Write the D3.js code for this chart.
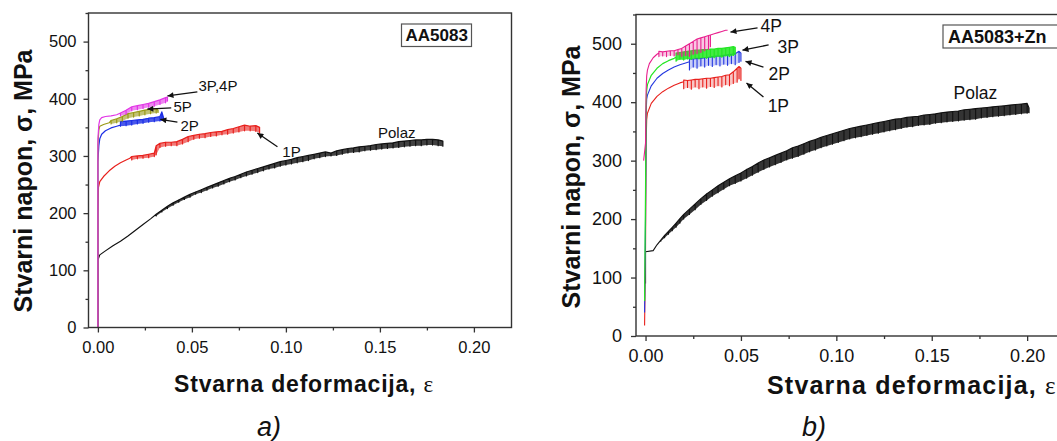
<!DOCTYPE html>
<html><head><meta charset="utf-8">
<script src="https://cdn.jsdelivr.net/npm/d3@7"></script>
<style>
body{margin:0;background:#fff;}
svg{display:block;}
text{font-family:Arial,"Liberation Sans",sans-serif;fill:#111;}
</style>
</head><body>
<svg id="c" width="1057" height="441"></svg>
<script>
// ---------- shared axis settings ----------
const xDomain = [-0.005, 0.22];
const yDomain = [0, 550];
const xTicks = [0, 0.05, 0.10, 0.15, 0.20];
const xMinor = [0.025, 0.075, 0.125, 0.175];
const yTicks = [0, 100, 200, 300, 400, 500];
const yMinor = [50, 150, 250, 350, 450, 550];
const xTitle = "Stvarna deformacija, ";
const xTitleSym = "ε";
const yTitle = "Stvarni napon, σ, MPa";

// ---------- panel a) AA5083 : [strain, stress] or [strain, stressTop, stressBottom] ----------
const polazA = [[0,0],[0,118],[0.001,127],[0.004,134],[0.008,143],[0.012,151],[0.016,160],[0.02,170],[0.024,180],[0.028,190],
[0.031,198,195],[0.034,205,202],[0.037,212,208],[0.040,218,214],[0.043,223,219],[0.046,228,224],[0.049,233,228],[0.052,237,233],[0.055,241,236],[0.058,245,240],[0.061,249,244],[0.064,253,247],[0.067,257,251],[0.070,261,255],[0.073,264,258],[0.076,268,262],[0.079,272,265],[0.082,275,268],[0.085,278,271],[0.088,281,274],[0.091,284,277],[0.094,287,279],[0.097,290,282],[0.100,292,284],[0.103,294,286],[0.106,297,288],[0.109,299,290],[0.112,301,292],[0.115,303,295],[0.118,305,297],[0.121,307,299],[0.124,305,300],[0.127,309,301],[0.130,311,303],[0.133,313,305],[0.136,314,306],[0.139,316,307],[0.142,317,309],[0.145,318,310],[0.148,320,311],[0.151,321,312],[0.154,322,313],[0.157,323,314],[0.160,325,315],[0.163,326,316],[0.166,327,317],[0.169,328,318],[0.172,328,318],[0.175,329,319],[0.178,329,319],[0.181,328,318],[0.1835,326,317]];
const p1A = [[0,0],[0,200],[0.0003,245],[0.001,255],[0.003,264],[0.006,274],[0.009,282],[0.012,288],[0.015,293],[0.017,296],
[0.018,299,293],[0.021,300,295],[0.024,301,296],[0.027,303,297],[0.030,305,299],[0.031,318,302],[0.033,322,315],[0.036,324,317],[0.039,324,318],[0.042,325,318],[0.045,329,321],[0.048,334,325],[0.051,336,329],[0.054,338,331],[0.057,339,332],[0.060,341,334],[0.063,342,335],[0.066,343,337],[0.069,346,338],[0.072,348,340],[0.075,351,342],[0.078,354,344],[0.081,352,344],[0.084,353,343],[0.086,350,340]];
const p2A = [[0,0],[0,290],[0.0005,318],[0.001,330],[0.002,338],[0.004,344],[0.007,349],[0.010,352],[0.012,354],
[0.012,360,352],[0.015,361,353],[0.018,362,354],[0.021,363,356],[0.024,364,357],[0.027,366,359],[0.030,367,360],[0.033,369,361],[0.034,377,362],[0.035,366,362]];
const p5A = [[0,0],[0,320],[0.0005,345],[0.001,352],[0.003,355],[0.006,358],
[0.007,362,356],[0.010,365,358],[0.013,369,361],[0.016,374,366],[0.019,376,368],[0.022,378,370],[0.025,380,372],[0.028,382,374],[0.031,383,375],[0.032,380,376]];
const p34A = [[0,0],[0,330],[0.0005,355],[0.001,363],[0.002,367],[0.004,369],[0.007,370],[0.010,372],
[0.012,375,370],[0.015,380,373],[0.018,386,379],[0.021,388,381],[0.024,390,383],[0.027,392,385],[0.030,395,387],[0.033,398,390],[0.036,402,393],[0.037,403,396]];

// ---------- panel b) AA5083+Zn ----------
const polazB = [[0,90],[0,144],[0.004,146],[0.006,156],[0.008,164,162],[0.010,172,168],[0.012,179,174],[0.014,186,180],[0.016,193,186],[0.018,201,193],[0.020,208,200],[0.023,217,208],[0.026,226,216],[0.029,235,225],[0.032,243,232],[0.035,250,239],[0.038,257,245],[0.041,263,251],[0.044,269,257],[0.047,274,261],[0.050,279,265],[0.053,285,270],[0.056,290,275],[0.059,296,280],[0.062,301,285],[0.065,305,289],[0.068,309,293],[0.071,313,297],[0.074,317,301],[0.077,322,304],[0.080,325,307],[0.083,329,311],[0.086,333,315],[0.089,336,318],[0.092,340,322],[0.095,343,325],[0.098,346,328],[0.101,349,331],[0.104,352,334],[0.107,355,337],[0.110,357,339],[0.113,359,341],[0.116,361,343],[0.119,363,345],[0.122,365,347],[0.125,367,349],[0.128,369,351],[0.131,371,353],[0.134,372,355],[0.137,374,357],[0.140,375,358],[0.143,376,360],[0.146,378,361],[0.149,379,362],[0.152,380,364],[0.155,382,365],[0.158,383,366],[0.161,384,367],[0.164,385,368],[0.167,387,369],[0.170,388,370],[0.173,389,371],[0.176,390,373],[0.179,391,374],[0.182,392,375],[0.185,393,376],[0.188,394,377],[0.191,395,378],[0.194,396,379],[0.197,397,380],[0.200,398,381],[0.201,390,382]];
const p1B = [[-0.0005,18],[0,150],[0.0003,330],[0.0006,370],[0.001,381],[0.003,398],[0.006,410],[0.009,418],[0.012,424],[0.015,429],[0.018,433],[0.020,435],
[0.020,438,423],[0.022,437,425],[0.024,438,422],[0.026,439,426],[0.028,439,423],[0.030,440,426],[0.032,441,424],[0.034,441,427],[0.036,442,425],[0.038,443,428],[0.040,444,426],[0.042,446,430],[0.044,447,428],[0.046,452,432],[0.048,458,434],[0.049,461,440],[0.050,458,437]];
const p2B = [[-0.0005,40],[0,200],[0.0003,380],[0.0006,405],[0.001,412],[0.003,428],[0.006,441],[0.009,449],[0.012,455],[0.015,460],[0.018,464],[0.021,467],[0.023,469],
[0.023,474,455],[0.025,474,460],[0.027,475,458],[0.029,475,462],[0.031,476,460],[0.033,477,463],[0.035,478,461],[0.037,479,464],[0.039,479,462],[0.041,480,465],[0.043,481,463],[0.045,482,466],[0.047,483,464],[0.049,487,468],[0.050,484,470]];
const p3B = [[-0.0005,60],[0,250],[0.0003,400],[0.0006,420],[0.001,430],[0.003,446],[0.006,458],[0.009,466],[0.012,471],[0.015,475],[0.016,477],
[0.016,484,470],[0.018,485,473],[0.020,486,472],[0.022,487,474],[0.024,488,473],[0.026,489,475],[0.028,489,474],[0.030,490,476],[0.032,490,475],[0.034,491,477],[0.036,491,476],[0.038,492,478],[0.040,492,477],[0.042,493,479],[0.044,494,478],[0.046,495,480],[0.047,494,482]];
const p4B = [[-0.001,300],[0,330],[0.0003,420],[0.0006,445],[0.001,455],[0.002,466],[0.004,476],[0.006,482],[0.007,484],
[0.007,487,478],[0.009,486,479],[0.011,487,478],[0.013,488,480],[0.015,488,479],[0.017,490,481],[0.019,492,478],[0.021,496,480],[0.023,500,478],[0.025,504,482],[0.027,508,483],[0.029,510,485],[0.031,512,488],[0.033,514,490],[0.034,515,495],
[0.036,517],[0.038,519],[0.040,521],[0.042,523],[0.043,523]];

// ---------- annotations (data units): label, text x, text y, arrow tail x,y, arrow tip x,y ----------
const notesA = [
  ["3P,4P", 0.0535, 422, 0.0529, 412, 0.037, 405],
  ["5P", 0.0402, 386, 0.039, 384, 0.0263, 382],
  ["2P", 0.0439, 352, 0.0423, 359, 0.0332, 364],
  ["1P", 0.0981, 307, 0.0955, 316, 0.0848, 340],
  ["Polaz", 0.149, 340]
];
const notesB = [
  ["4P", 0.0603, 530, 0.0587, 527, 0.0445, 520],
  ["3P", 0.0692, 494, 0.0645, 498, 0.0508, 489],
  ["2P", 0.0645, 448, 0.0618, 460, 0.0524, 470],
  ["1P", 0.064, 393, 0.0618, 409, 0.0529, 433],
  ["Polaz", 0.1614, 416]
];

const svg = d3.select("#c");
svg.append("rect").attr("width",1057).attr("height",441).attr("fill","#fff");
svg.append("defs").append("marker").attr("id","ah")
  .attr("viewBox","0 0 10 10").attr("refX",10).attr("refY",5)
  .attr("markerWidth",9).attr("markerHeight",6).attr("markerUnits","userSpaceOnUse")
  .attr("orient","auto")
  .append("path").attr("d","M0,0 L10,5 L0,10 Z").attr("fill","#111");

// comb: upper envelope with a downward tooth at every serrated reading
function comb(pts){
  const out=[];
  pts.forEach(p=>{ out.push([p[0],p[1]]); if(p.length>2){ out.push([p[0],p[2]]); out.push([p[0],p[1]]); } });
  return out;
}

function panel(cfg){
  const x = d3.scaleLinear().domain(xDomain).range([cfg.left, cfg.right]);
  const y = d3.scaleLinear().domain(yDomain).range([cfg.bottom, cfg.top]);
  const g = svg.append("g");

  // series
  const line = d3.line().x(d=>x(d[0])).y(d=>y(d[1]));
  const band = d3.area().defined(d=>d.length>2).x(d=>x(d[0])).y0(d=>y(d[2])).y1(d=>y(d[1]));
  cfg.series.forEach(s=>{
    if(s.band) g.append("path").attr("d",band(s.data)).attr("fill",s.color).attr("opacity",s.band).attr("stroke","none");
    g.append("path").attr("d",line(comb(s.data))).attr("fill","none")
      .attr("stroke",s.color).attr("stroke-width",s.w).attr("stroke-linejoin","round");
  });

  // frame
  g.append("rect").attr("x",cfg.left).attr("y",cfg.top)
    .attr("width",cfg.right-cfg.left).attr("height",cfg.bottom-cfg.top)
    .attr("fill","none").attr("stroke","#333").attr("stroke-width",1.4);

  // axes
  const xa = g.append("g").attr("transform",`translate(0,${cfg.bottom})`)
    .call(d3.axisBottom(x).tickValues(xTicks).tickFormat(d3.format(".2f")).tickSize(5).tickSizeOuter(0).tickPadding(cfg.xPad));
  const xm = g.append("g").attr("transform",`translate(0,${cfg.bottom})`)
    .call(d3.axisBottom(x).tickValues(xMinor).tickFormat("").tickSize(3).tickSizeOuter(0));
  const ya = g.append("g").attr("transform",`translate(${cfg.left},0)`)
    .call(d3.axisLeft(y).tickValues(yTicks).tickSize(5).tickSizeOuter(0).tickPadding(cfg.yPad));
  const ym = g.append("g").attr("transform",`translate(${cfg.left},0)`)
    .call(d3.axisLeft(y).tickValues(yMinor).tickFormat("").tickSize(3).tickSizeOuter(0));
  [xa,xm,ya,ym].forEach(a=>{
    a.select(".domain").remove();
    a.selectAll("line").attr("stroke","#333").attr("stroke-width",1.3);
    a.selectAll("text").attr("font-size",cfg.tickFont).attr("font-family","Arial, 'Liberation Sans', sans-serif").attr("fill","#111");
  });

  // legend box
  const lb = g.append("g");
  lb.append("rect").attr("x",cfg.box[0]).attr("y",cfg.box[1]).attr("width",cfg.box[2]).attr("height",cfg.box[3])
    .attr("fill","#fff").attr("stroke","#555").attr("stroke-width",1.2);
  lb.append("text").attr("x",cfg.box[0]+cfg.boxTextDx).attr("y",cfg.box[1]+cfg.box[3]/2+6)
    .attr("text-anchor","start").attr("font-weight","bold").attr("font-size",cfg.boxFont).text(cfg.name);

  // annotations
  cfg.notes.forEach(n=>{
    g.append("text").attr("x",x(n[1])).attr("y",y(n[2])).attr("dy","0.35em")
      .attr("font-size",cfg.noteFont).text(n[0]);
    if(n.length>3){
      g.append("line").attr("x1",x(n[3])).attr("y1",y(n[4])).attr("x2",x(n[5])).attr("y2",y(n[6]))
        .attr("stroke","#111").attr("stroke-width",1.3).attr("marker-end","url(#ah)");
    }
  });

  // axis titles
  const xt = g.append("text").attr("x",cfg.xTitleX).attr("y",cfg.xTitleY).attr("text-anchor",cfg.xTitleAnchor)
    .attr("font-weight","bold").attr("font-size",cfg.titleFont).attr("letter-spacing",cfg.titleSpacing);
  xt.append("tspan").text(xTitle);
  xt.append("tspan").attr("font-family","'Liberation Serif','Times New Roman',serif").attr("font-weight","normal").text(xTitleSym);
  g.append("text").attr("transform",`translate(${cfg.yTitleX},${cfg.yTitleY}) rotate(-90)`)
    .attr("text-anchor","middle").attr("font-weight","bold").attr("font-size",25).text(yTitle);

  g.append("text").attr("x",cfg.capX).attr("y",436).attr("text-anchor","middle")
    .attr("font-family","'Liberation Serif','Times New Roman',serif").attr("font-style","italic")
    .attr("font-size",27).text(cfg.cap);
}

panel({
  left:88.5, right:511.5, top:13, bottom:327.5,
  xPad:9, yPad:7, tickFont:16.5,
  series:[
    {data:polazA,color:"#111",w:1.2,band:0.8},
    {data:p1A,color:"#e8201c",w:1.2,band:0.6},
    {data:p2A,color:"#1c2ee6",w:1.2,band:0.8},
    {data:p5A,color:"#9a9a18",w:1.2,band:0.6},
    {data:p34A,color:"#e236e6",w:1.2,band:0.6}
  ],
  box:[401.5,24,70,22.5], boxTextDx:4, boxFont:17, name:"AA5083",
  notes:notesA, noteFont:15,
  xTitleX:304, xTitleY:392, xTitleAnchor:"middle", titleFont:23, titleSpacing:0.8,
  yTitleX:32, yTitleY:181,
  capX:269, cap:"a)"
});

panel({
  left:636, right:1065.3, top:14.5, bottom:336,
  xPad:8, yPad:9, tickFont:18,
  series:[
    {data:polazB,color:"#111",w:1.1,band:0.85},
    {data:p1B,color:"#e8201c",w:1.1,band:0.25},
    {data:p2B,color:"#2438e0",w:1.1,band:0.25},
    {data:p3B,color:"#22e622",w:1.2,band:0.85},
    {data:p4B,color:"#e8208e",w:1.1,band:0.25}
  ],
  box:[943,25,130,23], boxTextDx:5, boxFont:18, name:"AA5083+Zn",
  notes:notesB, noteFont:17.5,
  xTitleX:767, xTitleY:394, xTitleAnchor:"start", titleFont:25, titleSpacing:1.2,
  yTitleX:580, yTitleY:177,
  capX:814, cap:"b)"
});
</script>
</body></html>
